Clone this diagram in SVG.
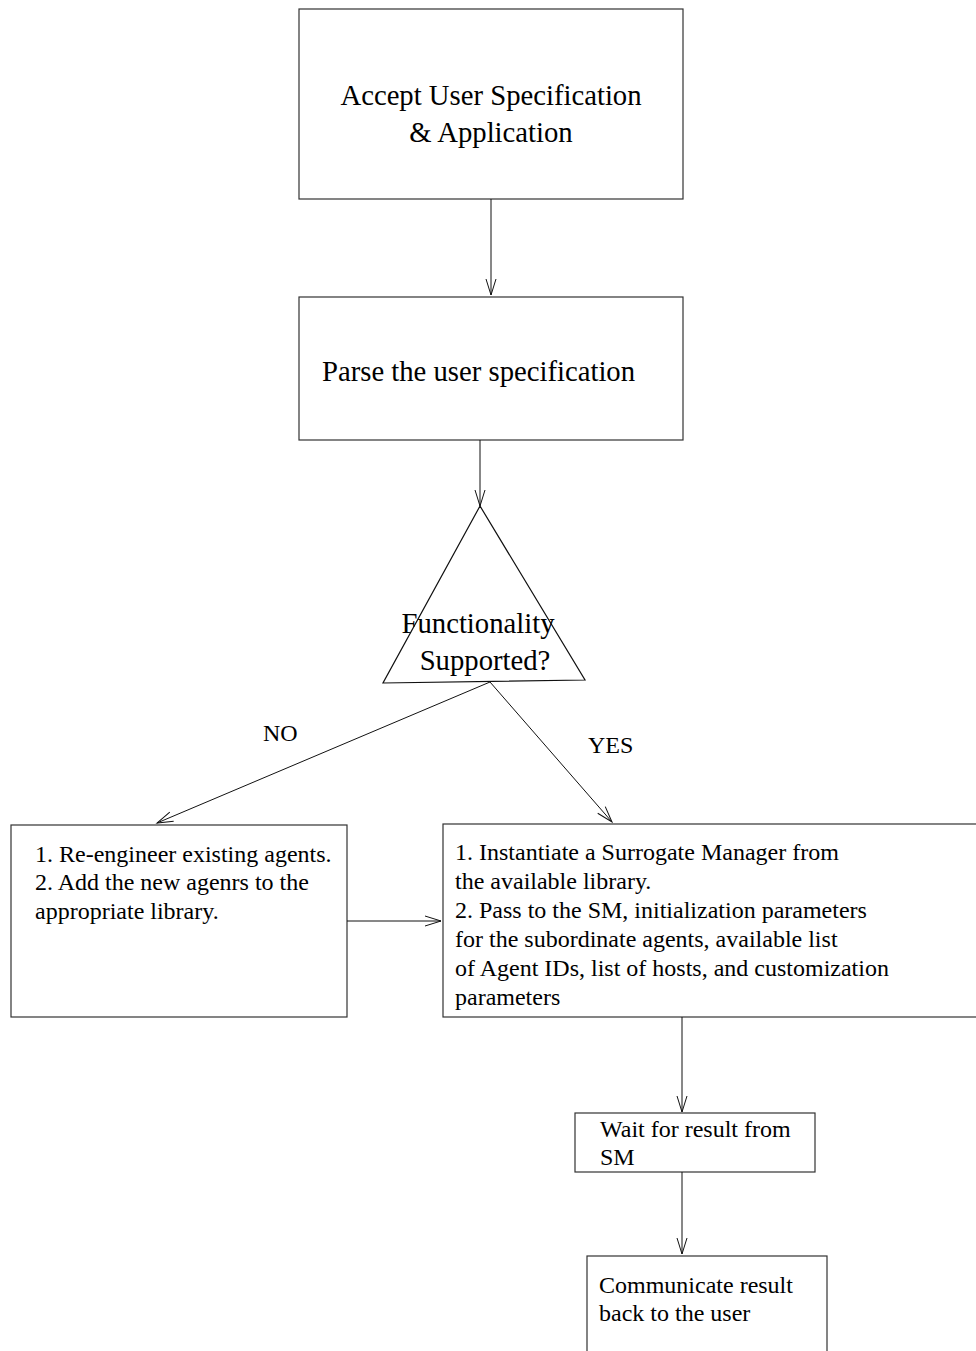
<svg xmlns="http://www.w3.org/2000/svg" width="976" height="1351" viewBox="0 0 976 1351">
<style>
.box{fill:#fff;stroke:#333;stroke-width:1.2}
.t{font-family:"Liberation Serif",serif;fill:#000}
.big{font-size:28.7px}
.sm{font-size:24px}
.lbl{font-size:24px}
.c{stroke:#111;stroke-width:1;fill:none}
</style>
<defs>
<marker id="ah" markerWidth="20" markerHeight="12" refX="17" refY="6" orient="auto" markerUnits="userSpaceOnUse">
<path d="M1,1 L17,6 L1,11" fill="none" stroke="#111" stroke-width="1"/>
</marker>
</defs>
<rect width="976" height="1351" fill="#fff"/>
<g id="n1">
<rect class="box" x="299" y="9" width="384" height="190"/>
<text class="t big" x="491" y="105" text-anchor="middle">Accept User Specification</text>
<text class="t big" x="491" y="142" text-anchor="middle">&amp; Application</text>
</g>
<g id="n2">
<rect class="box" x="299" y="297" width="384" height="143"/>
<text class="t big" x="322" y="381">Parse the user specification</text>
</g>
<g id="n3">
<polygon points="480,506 383,683 585,680" fill="none" stroke="#111" stroke-width="1.2"/>
<text class="t big" x="478" y="633" text-anchor="middle">Functionality</text>
<text class="t big" x="485" y="670" text-anchor="middle">Supported?</text>
</g>
<g id="n4">
<rect class="box" x="11" y="825" width="336" height="192"/>
<text class="t sm" x="35" y="862">1. Re-engineer existing agents.</text>
<text class="t sm" x="35" y="890">2. Add the new agenrs to the</text>
<text class="t sm" x="35" y="919">appropriate library.</text>
</g>
<g id="n5">
<rect class="box" x="443" y="824" width="540" height="193"/>
<text class="t sm" x="455" y="860">1. Instantiate a Surrogate Manager from</text>
<text class="t sm" x="455" y="889">the available library.</text>
<text class="t sm" x="455" y="918">2. Pass to the SM, initialization parameters</text>
<text class="t sm" x="455" y="947">for the subordinate agents, available list</text>
<text class="t sm" x="455" y="976">of Agent IDs, list of hosts, and customization</text>
<text class="t sm" x="455" y="1005">parameters</text>
</g>
<g id="n6">
<rect class="box" x="575" y="1113" width="240" height="59"/>
<text class="t sm" x="600" y="1137">Wait for result from</text>
<text class="t sm" x="600" y="1165">SM</text>
</g>
<g id="n7">
<rect class="box" x="587" y="1256" width="240" height="110"/>
<text class="t sm" x="599" y="1293">Communicate result</text>
<text class="t sm" x="599" y="1321">back to the user</text>
</g>
<g id="connectors">
<line class="c" x1="491" y1="199" x2="491" y2="295" marker-end="url(#ah)"/>
<line class="c" x1="480" y1="440" x2="480" y2="506" marker-end="url(#ah)"/>
<line class="c" x1="490" y1="682" x2="157" y2="823" marker-end="url(#ah)"/>
<line class="c" x1="490" y1="682" x2="612" y2="822" marker-end="url(#ah)"/>
<line class="c" x1="347" y1="921" x2="441" y2="921" marker-end="url(#ah)"/>
<line class="c" x1="682" y1="1017" x2="682" y2="1112" marker-end="url(#ah)"/>
<line class="c" x1="682" y1="1172" x2="682" y2="1254" marker-end="url(#ah)"/>
<text class="t lbl" x="263" y="741">NO</text>
<text class="t lbl" x="588" y="753">YES</text>
</g>
</svg>
